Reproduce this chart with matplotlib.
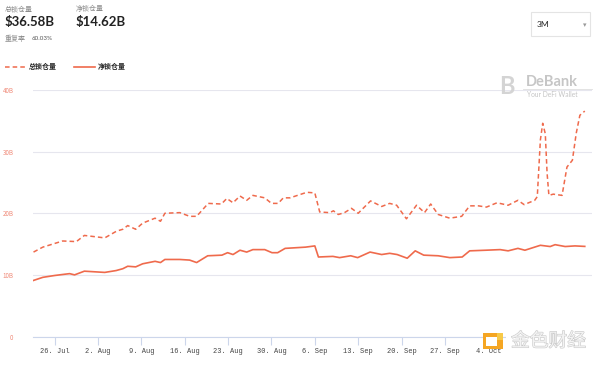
import matplotlib
matplotlib.use("Agg")
import matplotlib.pyplot as plt
import matplotlib.dates as mdates
import matplotlib.patheffects as pe
from matplotlib.patches import Rectangle
import pandas as pd

plt.rcParams['font.family'] = ['Noto Sans CJK SC', 'DejaVu Sans']

# total locked (dashed), billions USD
total_dates = ["2021-07-22 14:00", "2021-07-24 02:00", "2021-07-27 07:00", "2021-07-29 12:00",
               "2021-07-30 19:00", "2021-08-03 02:00", "2021-08-05 00:00", "2021-08-06 00:00",
               "2021-08-06 19:00", "2021-08-08 02:00", "2021-08-09 05:00", "2021-08-11 05:00",
               "2021-08-12 02:00", "2021-08-12 19:00", "2021-08-15 05:00", "2021-08-16 19:00",
               "2021-08-17 22:00", "2021-08-19 19:00", "2021-08-21 22:00", "2021-08-22 19:00",
               "2021-08-23 19:00", "2021-08-24 22:00", "2021-08-26 00:00", "2021-08-27 00:00",
               "2021-08-28 22:00", "2021-08-30 00:00", "2021-08-31 02:00", "2021-08-31 22:00",
               "2021-09-02 00:00", "2021-09-04 17:00", "2021-09-06 00:00", "2021-09-06 19:00",
               "2021-09-08 10:00", "2021-09-09 00:00", "2021-09-09 19:00", "2021-09-10 19:00",
               "2021-09-11 22:00", "2021-09-13 00:00", "2021-09-15 00:00", "2021-09-16 19:00",
               "2021-09-18 02:00", "2021-09-19 05:00", "2021-09-20 19:00", "2021-09-22 10:00",
               "2021-09-23 17:00", "2021-09-24 17:00", "2021-09-25 22:00", "2021-09-27 19:00",
               "2021-09-29 17:00", "2021-10-01 00:00", "2021-10-02 10:00", "2021-10-03 17:00",
               "2021-10-05 10:00", "2021-10-07 05:00", "2021-10-08 19:00", "2021-10-09 19:00",
               "2021-10-11 12:00", "2021-10-11 22:00", "2021-10-12 10:00", "2021-10-12 19:00",
               "2021-10-13 05:00", "2021-10-13 12:00", "2021-10-13 19:00", "2021-10-14 12:00",
               "2021-10-15 22:00", "2021-10-16 17:00", "2021-10-17 14:00", "2021-10-18 05:00",
               "2021-10-18 19:00", "2021-10-19 14:00"]
total_vals = [13.7, 14.5, 15.5, 15.4, 16.4, 16.0, 17.1, 17.4, 18.0, 17.4, 18.4, 19.2,
              18.7, 20.0, 20.1, 19.5, 19.5, 21.6, 21.5, 22.4, 21.7, 22.8, 22.1, 22.9,
              22.5, 21.6, 21.6, 22.5, 22.5, 23.4, 23.3, 20.2, 20.1, 20.4, 19.8, 20.1,
              20.8, 20.0, 22.0, 21.1, 21.6, 21.3, 19.1, 21.3, 20.1, 21.5, 19.8, 19.2,
              19.5, 21.2, 21.2, 21.0, 21.7, 21.3, 22.1, 21.4, 22.1, 22.7, 31.9, 34.6,
              32.9, 26.5, 22.9, 23.1, 22.9, 27.5, 28.6, 33.0, 35.9, 36.58]

# net locked (solid)
net_dates = ["2021-07-22 14:00", "2021-07-24 02:00", "2021-07-26 00:00", "2021-07-27 14:00",
             "2021-07-28 10:00", "2021-07-29 05:00", "2021-07-30 19:00", "2021-08-03 02:00",
             "2021-08-04 22:00", "2021-08-06 00:00", "2021-08-06 19:00", "2021-08-08 02:00",
             "2021-08-09 05:00", "2021-08-11 05:00", "2021-08-12 02:00", "2021-08-12 19:00",
             "2021-08-15 05:00", "2021-08-16 19:00", "2021-08-17 22:00", "2021-08-19 17:00",
             "2021-08-22 00:00", "2021-08-22 22:00", "2021-08-23 19:00", "2021-08-24 22:00",
             "2021-08-26 00:00", "2021-08-27 00:00", "2021-08-28 22:00", "2021-08-30 02:00",
             "2021-08-31 00:00", "2021-09-01 05:00", "2021-09-04 12:00", "2021-09-06 00:00",
             "2021-09-06 14:00", "2021-09-08 22:00", "2021-09-10 00:00", "2021-09-11 19:00",
             "2021-09-12 22:00", "2021-09-14 22:00", "2021-09-16 19:00", "2021-09-18 02:00",
             "2021-09-19 07:00", "2021-09-20 22:00", "2021-09-22 05:00", "2021-09-23 14:00",
             "2021-09-25 22:00", "2021-09-27 19:00", "2021-09-29 19:00", "2021-10-01 00:00",
             "2021-10-03 14:00", "2021-10-05 22:00", "2021-10-07 05:00", "2021-10-08 19:00",
             "2021-10-09 22:00", "2021-10-12 10:00", "2021-10-14 00:00", "2021-10-14 19:00",
             "2021-10-16 10:00", "2021-10-18 00:00", "2021-10-19 14:00"]
net_vals = [9.1, 9.6, 9.9, 10.1, 10.2, 10.0, 10.6, 10.4, 10.7, 11.0, 11.4, 11.3,
            11.8, 12.2, 12.0, 12.5, 12.5, 12.4, 12.0, 13.1, 13.2, 13.6, 13.3, 14.0,
            13.7, 14.1, 14.1, 13.6, 13.6, 14.3, 14.5, 14.7, 12.9, 13.0, 12.8, 13.1,
            12.8, 13.7, 13.3, 13.5, 13.3, 12.7, 13.9, 13.2, 13.1, 12.8, 12.9, 13.9,
            14.0, 14.1, 13.9, 14.3, 14.0, 14.8, 14.6, 14.9, 14.6, 14.7, 14.62]

y_ticks = [0, 10, 20, 30, 40]
y_labels = ["0", "10B", "20B", "30B", "40B"]

line_c = "#ef6a4c"
W, H = 600, 366

fig = plt.figure(figsize=(6, 3.66), dpi=100)
ax = fig.add_axes([33 / W, 1 - 336.5 / H, (592 - 33) / W, (336.5 - 90) / H])

td = pd.to_datetime(total_dates)
nd = pd.to_datetime(net_dates)
ax.plot(td, total_vals, color=line_c, lw=1.1, ls=(0, (3, 2)))
ax.plot(nd, net_vals, color=line_c, lw=1.2)

ax.set_ylim(0, 40)
ax.set_xlim(pd.Timestamp("2021-07-22 12:00"), pd.Timestamp("2021-10-20 18:00"))
ax.set_yticks(y_ticks)
ax.set_yticklabels(y_labels)
ax.grid(axis='y', color="#e6e6ee", lw=0.8)
for s in ['top', 'right', 'left']:
    ax.spines[s].set_visible(False)
ax.spines['bottom'].set_color("#ccd6eb")
ax.spines['bottom'].set_linewidth(0.8)
ax.tick_params(axis='y', length=0, labelsize=4.5, labelcolor="#f08a78", pad=14)
ax.tick_params(axis='x', length=6, color="#ccd6eb", width=0.8, labelsize=5, labelcolor="#444444", pad=2)

ax.xaxis.set_major_locator(mdates.WeekdayLocator(byweekday=mdates.MO))
# labels after 4 Oct sit under the watermark in the reference
hide_after = mdates.date2num(pd.Timestamp("2021-10-05"))
ax.xaxis.set_major_formatter(plt.FuncFormatter(
    lambda v, p: "" if v > hide_after else
    "%d. %s" % (mdates.num2date(v).day, mdates.num2date(v).strftime("%b"))))
for lb in ax.get_xticklabels():
    lb.set_family("Liberation Mono")


def fx(px):
    return px / W


def fy(py):
    return 1 - py / H


# header
gray = "#8c8c8c"
fig.text(fx(5), fy(9), "总锁仓量", fontsize=5, color=gray, va='center')
fig.text(fx(76), fy(9), "净锁仓量", fontsize=5, color=gray, va='center')
fig.text(fx(5), fy(22), "$36.58B", fontsize=9.5, color="#222222", va='center', family="Lato", weight='bold')
fig.text(fx(76), fy(22), "$14.62B", fontsize=9.5, color="#222222", va='center', family="Lato", weight='bold')
fig.text(fx(5), fy(39), "重复率", fontsize=5, color=gray, va='center')
fig.text(fx(32), fy(39), "60.03%", fontsize=4.5, color="#555555", va='center', family="Lato")

# legend
fig.add_artist(plt.Line2D([fx(5), fx(25)], [fy(66.5), fy(66.5)], color=line_c, lw=1.1, ls=(0, (3, 2))))
fig.text(fx(29), fy(66.5), "总锁仓量", fontsize=5, color="#222222", va='center', weight='bold')
fig.add_artist(plt.Line2D([fx(74), fx(95)], [fy(66.5), fy(66.5)], color=line_c, lw=1.2))
fig.text(fx(98), fy(66.5), "净锁仓量", fontsize=5, color="#222222", va='center', weight='bold')

# range dropdown
fig.add_artist(Rectangle((fx(531), fy(36)), fx(59), 24 / H, fill=False, ec="#e4e4e4", lw=0.8))
fig.text(fx(537), fy(24.5), "3M", fontsize=6, color="#222222", va='center', family="Lato")
fig.text(fx(585), fy(25), "▾", fontsize=5, color="#999999", va='center', ha='center', family="DejaVu Sans")

# DeBank watermark
fig.text(fx(507), fy(86), "B", fontsize=17, color="#d4d4d4", va='center', ha='center', weight='bold', family="Lato")
fig.text(fx(526), fy(82), "DeBank", fontsize=10.5, color="#c6c6c6", va='center', weight='bold', family="Lato")
fig.add_artist(plt.Line2D([fx(523), fx(592)], [fy(89), fy(89)], color="#dedede", lw=0.6))
fig.text(fx(527), fy(94.5), "Your DeFi Wallet", fontsize=4.8, color="#c4c4c4", va='center', family="Lato")

# bottom-right watermark
fig.add_artist(Rectangle((fx(506), fy(353)), fx(90), 20 / H, fc="white", ec="none"))
fig.add_artist(Rectangle((fx(483), fy(349)), fx(20), 16 / H, fc="#f5a623", ec="none"))
fig.add_artist(Rectangle((fx(486), fy(346)), fx(11), 9 / H, fc="white", ec="none"))
fig.add_artist(Rectangle((fx(497), fy(340)), fx(6), 7 / H, fc="#f7c948", ec="none"))
fig.text(fx(511), fy(341), "金色财经", fontsize=13.5, color="#f3f3f3", va='center',
         path_effects=[pe.withStroke(linewidth=0.8, foreground="#c8c8c8")])

fig.savefig("out.png", dpi=100)
